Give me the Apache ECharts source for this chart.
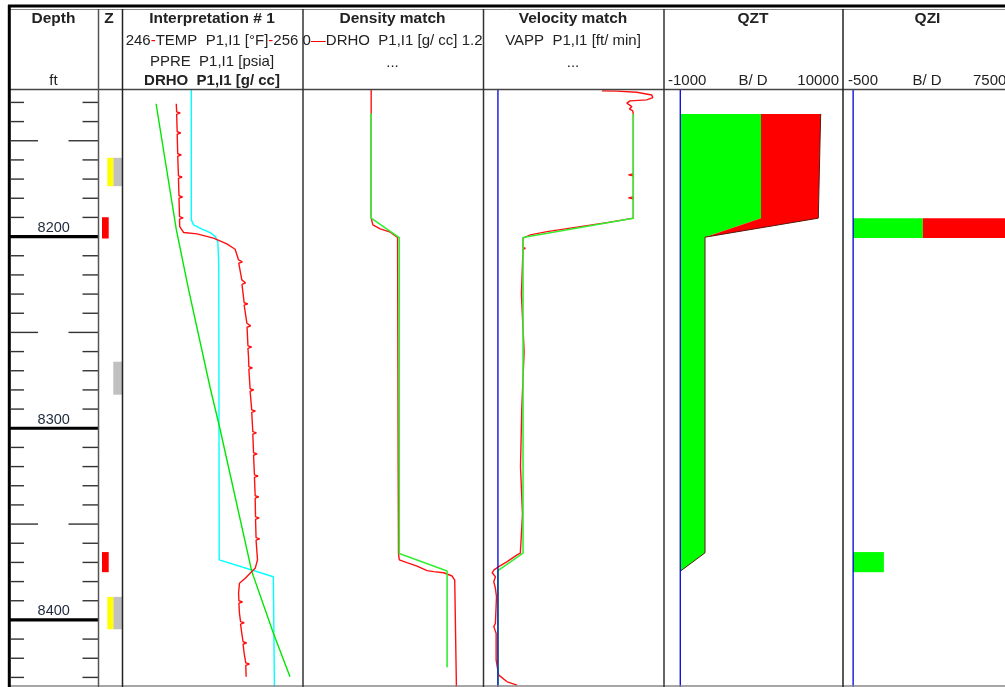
<!DOCTYPE html>
<html>
<head>
<meta charset="utf-8">
<title>Well log - Interpretation # 1</title>
<script src="https://cdn.jsdelivr.net/npm/echarts@6/dist/echarts.min.js"></script>
<style>
  html, body { margin: 0; padding: 0; background: #fff; }
  #chart { width: 1005px; height: 687px; }
</style>
</head>
<body>
<div id="chart"></div>
<script>
// depth window of the log body (ft)
const depthTop = 8123
const depthBottom = 8435
const depthTicks = [8130, 8140, 8150, 8160, 8170, 8180, 8190, 8200, 8210, 8220, 8230, 8240, 8250, 8260, 8270,
  8280, 8290, 8300, 8310, 8320, 8330, 8340, 8350, 8360, 8370, 8380, 8390, 8400, 8410, 8420, 8430]

// Z track flags, [top, bottom]
const zRed = [[8189.9, 8201.0], [8364.6, 8375.1]]
const zYellow = [[8158.9, 8173.7], [8388.0, 8404.9]]
const zGray = [[8158.9, 8173.7], [8265.3, 8282.5], [8388.0, 8404.9]]

// Interpretation # 1 curves, [depth, value]
const tempCurve = [
  [8130.7, 248.98], [8134.9, 249.0], [8135.5, 249.2], [8136.2, 249.0],
  [8145.3, 249.03], [8145.9, 249.23], [8146.6, 249.03],
  [8156.8, 249.06], [8157.4, 249.26], [8158.1, 249.06],
  [8168.3, 249.1], [8168.9, 249.3], [8169.6, 249.1],
  [8178.7, 249.13], [8179.3, 249.33], [8180.0, 249.13],
  [8189.6, 249.16], [8190.2, 249.36], [8190.9, 249.16],
  [8194.8, 249.17], [8197.9, 249.39], [8198.6, 250.13], [8200.8, 251.04], [8203.8, 251.78], [8206.6, 252.24], [8212.2, 252.43],
  [8212.6, 252.44], [8213.2, 252.64], [8213.9, 252.44],
  [8222.6, 252.61],
  [8223.6, 252.62], [8224.2, 252.82], [8224.9, 252.62],
  [8234.5, 252.74], [8235.1, 252.94], [8235.8, 252.74],
  [8245.2, 252.89],
  [8246.0, 252.9], [8246.6, 253.1], [8247.3, 252.9],
  [8257.0, 252.95], [8257.6, 253.15], [8258.3, 252.95],
  [8262.6, 252.98],
  [8267.9, 253.0], [8268.5, 253.2], [8269.2, 253.0],
  [8279.4, 253.07], [8280.0, 253.27], [8280.7, 253.07],
  [8290.4, 253.16], [8291.0, 253.36], [8291.7, 253.16],
  [8301.8, 253.22], [8302.4, 253.42], [8303.1, 253.22],
  [8312.8, 253.26], [8313.4, 253.46], [8314.1, 253.26],
  [8324.3, 253.31], [8324.9, 253.51], [8325.6, 253.31],
  [8335.2, 253.35], [8335.8, 253.55], [8336.5, 253.35],
  [8346.2, 253.37], [8346.8, 253.57], [8347.5, 253.37],
  [8357.1, 253.4], [8357.7, 253.6], [8358.4, 253.4],
  [8368.7, 253.48], [8373.1, 253.35], [8375.7, 253.07], [8378.3, 252.8], [8380.9, 252.48], [8386.1, 252.43],
  [8390.0, 252.45], [8390.6, 252.65], [8391.3, 252.45],
  [8396.6, 252.48],
  [8400.9, 252.54], [8401.5, 252.74], [8402.2, 252.54],
  [8407.0, 252.61],
  [8411.4, 252.68], [8412.0, 252.88], [8412.7, 252.68],
  [8417.4, 252.74],
  [8422.4, 252.83], [8423.0, 253.03], [8423.7, 252.83],
  [8424.4, 252.85], [8429.6, 252.85]
]
const ppreCurve = [
  [8130.7, 3537.2], [8196.5, 3559.7], [8227.8, 3573.3], [8279.0, 3597.2], [8300.9, 3608.3],
  [8374.8, 3643.3], [8407.0, 3667.2], [8429.6, 3685.6]
]
const drhoCurve = [
  [8123.0, 0.4575], [8191.3, 0.4575], [8193.9, 0.4727], [8196.1, 0.528], [8197.9, 0.583], [8200.0, 0.617],
  [8202.6, 0.634], [8215.0, 0.64], [8368.7, 0.643], [8377.5, 1.003], [8435.0, 1.01]
]

// Density match, [depth, g/cc]
const densMeasured = [
  [8123.0, 0.4533], [8190.4, 0.4533], [8193.9, 0.4647], [8196.0, 0.5133], [8197.7, 0.58], [8200.5, 0.6287],
  [8325.0, 0.633], [8325.3, 0.645], [8325.8, 0.633], [8365.3, 0.635], [8368.7, 0.64], [8370.1, 0.6913],
  [8371.9, 0.758], [8374.3, 0.8247], [8374.8, 0.8687], [8375.4, 0.9353], [8377.1, 0.9913], [8379.2, 1.0087],
  [8435.0, 1.02]
]
const densModel = [
  [8135.6, 0.4533], [8190.4, 0.4533], [8200.5, 0.64], [8365.3, 0.64], [8374.5, 0.958], [8424.7, 0.958]
]

// Velocity match, [depth, ft/min]
const vappMeasured = [
  [8124.0, 57.6], [8124.1, 65.9], [8124.7, 76.9], [8126.1, 85.2], [8127.5, 85.8], [8128.7, 82.4], [8129.2, 73.2],
  [8130.4, 71.4], [8131.3, 72.3], [8132.2, 74.2], [8133.4, 72.8], [8134.4, 74.7], [8136.1, 75.0],
  [8167.3, 75.0], [8167.8, 72.3], [8168.3, 75.0], [8179.3, 75.0], [8179.8, 72.3], [8180.3, 75.0],
  [8190.4, 75.0], [8191.3, 69.5], [8192.7, 60.3], [8194.8, 45.6], [8197.4, 27.2], [8199.1, 18.0], [8200.8, 13.9],
  [8205.8, 13.9], [8206.1, 15.2], [8206.6, 13.9], [8230.0, 13.0], [8260.0, 14.5], [8290.0, 13.2], [8320.0, 12.5],
  [8345.0, 13.6], [8365.2, 12.4], [8366.1, 10.6], [8369.6, 5.1], [8372.2, 0.45], [8374.0, -2.3], [8375.4, -3.2],
  [8377.5, -1.4], [8380.1, -2.3], [8383.5, -1.4], [8387.9, -0.8], [8401.8, -1.4], [8403.5, -2.3], [8407.0, -1.0],
  [8420.9, -1.0], [8424.4, -0.4], [8428.8, 0.45], [8432.3, 5.1], [8434.0, 10.6]
]
const vappModel = [
  [8136.1, 75.0], [8190.4, 75.0], [8200.5, 13.9], [8365.2, 13.9], [8374.3, 0], [8435.0, 0]
]
const zeroLine = [[depthTop, 0], [depthBottom, 0]]

// QZT (B/D), two stacked parts
const qztDepth = [8136.0, 8150.0, 8190.4, 8200.3, 8365.0, 8374.6]
const qztGreen = [4960, 4960, 4960, 1520, 1520, 0]
const qztRed = [3670, 3630, 3522, 0, 0, 0]

// QZI (B/D), interval blocks
const qziTop = [8190.4, 8364.6]
const qziBottom = [8200.8, 8375.1]
const qziGreen = [3441, 1520]
const qziRed = [4100, 0]

const chart = echarts.init(document.getElementById('chart'))

// track columns: depth, Z, interpretation, density, velocity, QZT, QZI
const tracks = [
  { left: 9, width: 89.5 },
  { left: 98.5, width: 24 },
  { left: 122.5, width: 180.5 },
  { left: 303, width: 180.5 },
  { left: 483.5, width: 180.5 },
  { left: 664, width: 179 },
  { left: 843, width: 173 }
]
const bodyTop = 89
const bodyHeight = 598

const FONT = '"Liberation Sans", Arial, sans-serif'
const TEXT = '#222'

function xAxis(gridIndex, min, max) {
  return { gridIndex, type: 'value', min, max, show: false }
}

// plain curve, points are [depth, value]
function curve(xAxisIndex, yAxisIndex, pts, color, width) {
  return {
    type: 'line',
    xAxisIndex,
    yAxisIndex,
    data: pts.map(p => [p[1], p[0]]),
    symbol: 'none',
    silent: true,
    clip: true,
    lineStyle: { color, width: width || 1.4 }
  }
}

// filled polygon, points are [depth, value]
function fill(xAxisIndex, yAxisIndex, pts, color, z) {
  return {
    type: 'custom',
    xAxisIndex,
    yAxisIndex,
    data: [[0, depthTop]],
    silent: true,
    clip: true,
    z: z || 2,
    renderItem: (params, api) => ({
      type: 'polygon',
      shape: { points: pts.map(p => api.coord([p[1], p[0]])) },
      style: { fill: color }
    })
  }
}

// flag blocks in the Z track, x offsets inside the column
function flags(list, x0, x1, color) {
  return {
    type: 'custom',
    xAxisIndex: 1,
    yAxisIndex: 1,
    data: list.map(f => [0, f[0], f[1]]),
    silent: true,
    clip: true,
    renderItem: (params, api) => {
      const cs = params.coordSys
      const y0 = api.coord([0, api.value(1)])[1]
      const y1 = api.coord([0, api.value(2)])[1]
      return {
        type: 'rect',
        shape: { x: cs.x + x0, y: y0, width: x1 - x0, height: y1 - y0 },
        style: { fill: color }
      }
    }
  }
}

// stacked QZT polygons
const qztGreenPoly = [[qztDepth[0], 0]].concat(qztDepth.map((d, i) => [d, qztGreen[i]]))
  .concat([[qztDepth[qztDepth.length - 1], 0]])
const qztTotal = qztDepth.map((d, i) => [d, qztGreen[i] + qztRed[i]])
const qztRedPoly = qztTotal.concat(qztDepth.map((d, i) => [d, qztGreen[i]]).reverse())

// header text
function label(x, y, text, opts) {
  opts = opts || {}
  return {
    type: 'text',
    x,
    y,
    z: 10,
    style: {
      text,
      font: (opts.bold ? 'bold ' : '') + (opts.size || 15) + 'px ' + FONT,
      fill: TEXT,
      align: opts.align || 'center',
      verticalAlign: 'middle',
      rich: opts.rich
    }
  }
}
function hline(y, x1, x2, color, width) {
  return { type: 'line', z: 10, shape: { x1, y1: y, x2, y2: y }, style: { stroke: color, lineWidth: width } }
}
function vline(x, y1, y2, color, width) {
  return { type: 'line', z: 10, shape: { x1: x, y1, x2: x, y2 }, style: { stroke: color, lineWidth: width } }
}

const redDash = { fill: '#ff0000', font: '15px ' + FONT }
const title = { bold: true, size: 15.5 }

const graphic = [
  // frame
  hline(6, 8, 1005, '#000', 3),
  hline(9.5, 8, 1005, '#888', 1),
  hline(89.5, 8, 1005, '#444', 1.5),
  hline(686, 8, 1005, '#888', 1.5),
  vline(9.3, 5, 687, '#000', 3),
  vline(98.5, 9, 687, '#555', 1.5),
  vline(122.5, 9, 687, '#222', 1.5),
  vline(303, 9, 687, '#333', 1.5),
  vline(483.5, 9, 687, '#333', 1.5),
  vline(664, 9, 687, '#333', 1.5),
  vline(843, 9, 687, '#222', 1.5),
  // titles
  label(53.5, 19, 'Depth', title),
  label(109, 19, 'Z', title),
  label(212, 19, 'Interpretation # 1', title),
  label(392.5, 19, 'Density match', title),
  label(573, 19, 'Velocity match', title),
  label(753, 19, 'QZT', title),
  label(927.5, 19, 'QZI', title),
  // curve legends
  label(212, 41, '246{r|-}TEMP  P1,I1 [°F]{r|-}256', { rich: { r: redDash } }),
  label(212, 61.5, 'PPRE  P1,I1 [psia]'),
  label(212, 81, 'DRHO  P1,I1 [g/ cc]', { bold: true }),
  label(392.5, 41, '0{r|—}DRHO  P1,I1 [g/ cc] 1.2', { rich: { r: redDash } }),
  label(392.5, 63, '...'),
  label(573, 41, 'VAPP  P1,I1 [ft/ min]'),
  label(573, 63, '...'),
  label(53.5, 81, 'ft'),
  label(668, 81, '-1000', { align: 'left' }),
  label(753, 81, 'B/ D'),
  label(839, 81, '10000', { align: 'right' }),
  label(848, 81, '-500', { align: 'left' }),
  label(927, 81, 'B/ D'),
  label(973, 81, '7500', { align: 'left' })
]

const options = {
  animation: false,
  backgroundColor: '#fff',
  grid: tracks.map(t => ({ left: t.left, width: t.width, top: bodyTop, height: bodyHeight, show: false })),
  yAxis: tracks.map((t, i) => ({
    gridIndex: i, type: 'value', inverse: true, min: depthTop, max: depthBottom, show: false
  })),
  xAxis: [
    xAxis(0, 0, 1),          // 0 depth
    xAxis(1, 0, 1),          // 1 Z
    xAxis(2, 246, 256),      // 2 TEMP
    xAxis(2, 3500, 3700),    // 3 PPRE
    xAxis(2, 0, 1.2),        // 4 DRHO
    xAxis(3, 0, 1.2),        // 5 density match
    xAxis(4, -8, 92),        // 6 VAPP
    xAxis(5, -1000, 10000),  // 7 QZT
    xAxis(6, -500, 7500)     // 8 QZI
  ],
  graphic,
  series: [
    // depth scale ticks
    {
      type: 'custom',
      xAxisIndex: 0,
      yAxisIndex: 0,
      data: depthTicks.map(d => [0, d]),
      silent: true,
      clip: true,
      renderItem: (params, api) => {
        const cs = params.coordSys
        const d = api.value(1)
        const y = api.coord([0, d])[1]
        const l = cs.x
        const r = cs.x + cs.width
        const tick = (x1, x2, w, c) => ({
          type: 'line', shape: { x1, y1: y, x2, y2: y }, style: { stroke: c, lineWidth: w }
        })
        if (d % 100 === 0) {
          return {
            type: 'group',
            children: [
              tick(l, r, 3.2, '#000'),
              {
                type: 'text', x: l + cs.width / 2, y: y - 8.5,
                style: { text: String(d), font: '14.5px ' + FONT, fill: '#1e2a3c', align: 'center', verticalAlign: 'middle' }
              }
            ]
          }
        }
        const len = d % 50 === 0 ? 29 : 15
        return {
          type: 'group',
          children: [tick(l + 2, l + len, 1.4, '#333'), tick(r - len - 1, r, 1.4, '#333')]
        }
      }
    },
    // Z flags
    flags(zGray, 14.8, 23.5, '#c0c0c0'),
    flags(zYellow, 8.8, 14.8, '#ffff00'),
    flags(zRed, 3.5, 10.2, '#ff0000'),
    // interpretation
    curve(4, 2, drhoCurve, '#00ffff'),
    curve(3, 2, ppreCurve, '#00e800'),
    curve(2, 2, tempCurve, '#ff1010'),
    // density match
    curve(5, 3, densMeasured, '#ff1010'),
    curve(5, 3, densModel, '#33ee33', 1.6),
    // velocity match
    curve(6, 4, vappMeasured, '#ff1010'),
    curve(6, 4, vappModel, '#33ee33', 1.6),
    curve(6, 4, zeroLine, '#0000dd', 1.3),
    // QZT
    fill(7, 5, qztGreenPoly, '#00ff00'),
    fill(7, 5, qztRedPoly, '#ff0000'),
    curve(7, 5, qztTotal, '#5a1a10', 1),
    curve(7, 5, zeroLine, '#0000dd', 1.3),
    // QZI blocks
    {
      type: 'custom',
      xAxisIndex: 8,
      yAxisIndex: 6,
      data: qziTop.map((t, i) => [t, qziBottom[i], qziGreen[i], qziRed[i]]),
      silent: true,
      clip: true,
      renderItem: (params, api) => {
        const top = api.value(0)
        const bottom = api.value(1)
        const g = api.value(2)
        const r = api.value(3)
        const p0 = api.coord([0, top])
        const p1 = api.coord([g, bottom])
        const p2 = api.coord([g + r, bottom])
        return {
          type: 'group',
          children: [
            { type: 'rect', shape: { x: p0[0], y: p0[1], width: p1[0] - p0[0], height: p1[1] - p0[1] }, style: { fill: '#00ff00' } },
            { type: 'rect', shape: { x: p1[0], y: p0[1], width: p2[0] - p1[0], height: p1[1] - p0[1] }, style: { fill: '#ff0000' } }
          ]
        }
      }
    },
    curve(8, 6, zeroLine, '#0000dd', 1.3)
  ]
}

chart.setOption(options)
window.addEventListener('resize', () => {
  chart.resize()
})
</script>
</body>
</html>
